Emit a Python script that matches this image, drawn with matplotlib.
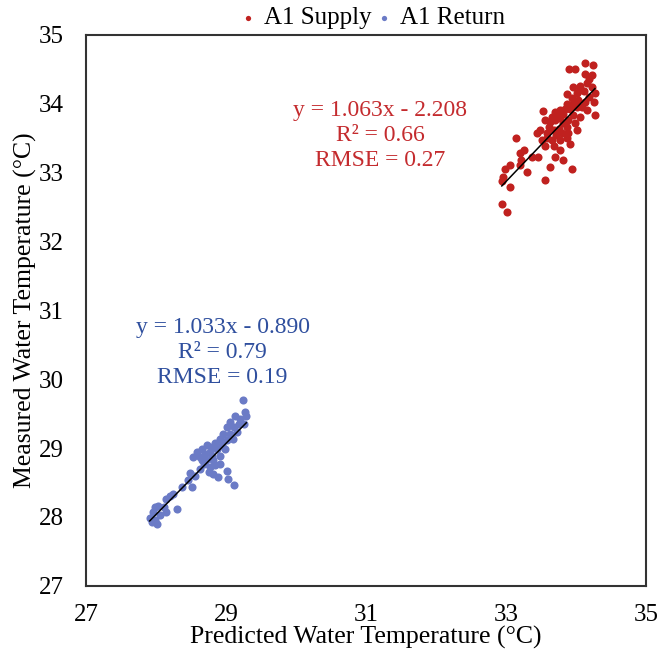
import matplotlib.pyplot as plt
import numpy as np

plt.rcParams['font.family'] = ['Liberation Serif', 'DejaVu Serif']

# predicted / measured water temperature, A1 supply
supply_pred = [34.13, 34.24, 33.90, 33.99, 34.13, 34.19, 34.15, 34.06, 34.23, 34.27,
               34.11, 34.01, 33.87, 33.94, 34.18, 34.25, 34.03, 34.13, 33.96, 33.87,
               33.77, 33.84, 33.91, 34.01, 34.08, 34.15, 34.27, 33.53, 33.75, 33.82,
               33.96, 34.06, 33.56, 33.63, 33.70, 33.77, 33.89, 33.99, 33.82, 33.61,
               33.68, 33.75, 33.87, 33.59, 33.72, 33.80, 33.14, 33.58, 33.65, 33.77,
               33.87, 33.91, 33.56, 33.68, 33.77, 33.25, 33.20, 33.37, 33.46, 33.70,
               33.82, 33.22, 33.63, 33.94, 33.30, 33.06, 32.99, 33.20, 33.56, 32.96,
               32.94, 33.06, 32.94, 33.01, 33.49, 33.70, 33.89, 34.01, 34.06, 33.96,
               34.23, 33.51, 33.44, 33.65]
supply_meas = [34.60, 34.56, 34.50, 34.50, 34.43, 34.36, 34.30, 34.26, 34.24, 34.16,
               34.18, 34.15, 34.14, 34.09, 34.10, 34.02, 34.05, 34.03, 34.00, 34.00,
               33.91, 33.93, 33.92, 33.95, 33.96, 33.91, 33.84, 33.89, 33.84, 33.85,
               33.84, 33.81, 33.76, 33.74, 33.76, 33.79, 33.76, 33.72, 33.72, 33.67,
               33.62, 33.64, 33.67, 33.57, 33.55, 33.58, 33.50, 33.50, 33.47, 33.47,
               33.50, 33.42, 33.38, 33.38, 33.33, 33.33, 33.28, 33.23, 33.23, 33.23,
               33.18, 33.18, 33.08, 33.06, 33.01, 33.11, 33.06, 33.11, 32.89, 32.94,
               32.88, 32.79, 32.54, 32.43, 33.62, 33.88, 33.57, 33.62, 34.20, 34.25,
               34.42, 33.47, 33.57, 33.81]

# predicted / measured water temperature, A1 return
return_pred = [29.24, 29.27, 29.29, 29.20, 29.13, 29.06, 29.01, 29.11, 29.18, 29.25,
               28.96, 29.06, 29.15, 28.92, 29.01, 29.10, 28.84, 28.80, 28.73, 28.65,
               28.58, 28.53, 28.63, 28.70, 28.77, 28.87, 28.92, 28.72, 28.82, 28.68,
               28.77, 28.84, 28.92, 28.75, 28.82, 28.89, 29.01, 29.03, 29.11, 28.63,
               28.49, 28.56, 28.46, 28.51, 28.37, 28.25, 28.20, 28.15, 28.30, 28.11,
               28.03, 27.99, 27.96, 27.91, 27.99, 28.06, 28.15, 27.94, 28.01, 28.65,
               28.80, 28.99, 28.94]
return_meas = [29.70, 29.52, 29.46, 29.42, 29.47, 29.38, 29.30, 29.30, 29.35, 29.35,
               29.21, 29.21, 29.23, 29.13, 29.11, 29.13, 29.08, 29.01, 29.04, 28.99,
               28.94, 28.87, 28.87, 28.92, 28.94, 28.99, 28.89, 28.82, 28.82, 28.77,
               28.72, 28.75, 28.77, 28.65, 28.62, 28.58, 28.67, 28.55, 28.46, 28.70,
               28.63, 28.60, 28.53, 28.43, 28.43, 28.33, 28.31, 28.26, 28.12, 28.14,
               28.16, 28.14, 28.07, 27.99, 27.96, 28.02, 28.07, 27.92, 27.90, 28.82,
               28.89, 28.99, 29.04]

supply_fit = (1.063, -2.208)
return_fit = (1.033, -0.890)
supply_text = ['y = 1.063x - 2.208', 'R² = 0.66', 'RMSE = 0.27']
return_text = ['y = 1.033x - 0.890', 'R² = 0.79', 'RMSE = 0.19']

red = '#C0211F'
blue = '#6B7BC6'
red_txt = '#C42B2E'
blue_txt = '#2F4F9E'

fig = plt.figure(figsize=(6.6, 6.55), dpi=100)
ax = fig.add_axes([0.1303, 0.1058, 0.8485, 0.8408])

ax.scatter(supply_pred, supply_meas, s=34, color=red, linewidths=0, label='A1 Supply', zorder=2)
ax.scatter(return_pred, return_meas, s=34, color=blue, linewidths=0, label='A1 Return', zorder=2)

# trend lines across the range of each group
for xs, (m, b) in [(supply_pred, supply_fit), (return_pred, return_fit)]:
    xx = np.array([min(xs), max(xs)])
    ax.plot(xx, m * xx + b, color='black', lw=1.1, zorder=3)

ax.text(31.2, 34.05, '\n'.join(supply_text), color=red_txt, fontsize=17,
        ha='center', va='top', linespacing=1.25)
ax.text(28.95, 30.91, '\n'.join(return_text), color=blue_txt, fontsize=17,
        ha='center', va='top', linespacing=1.25)

ax.set_xlim(27, 35)
ax.set_ylim(27, 35)
ax.set_xticks([27, 29, 31, 33, 35])
ax.set_yticks(range(27, 36))
ax.tick_params(length=0, labelsize=18, pad=13)
ax.tick_params(axis='y', pad=16)
for sp in ax.spines.values():
    sp.set_color('#333333')
    sp.set_linewidth(1.5)

ax.set_xlabel('Predicted Water Temperature (°C)', fontsize=18.5, labelpad=0)
ax.set_ylabel('Measured Water Temperature (°C)', fontsize=18.5, labelpad=1)

fig.legend(loc='upper center', bbox_to_anchor=(0.565, 1.005), ncol=2, frameon=False,
           fontsize=18, markerscale=0.65, handlelength=0.6, handletextpad=0.35,
           columnspacing=0.2, borderaxespad=0)

fig.savefig('out.png', dpi=100)
